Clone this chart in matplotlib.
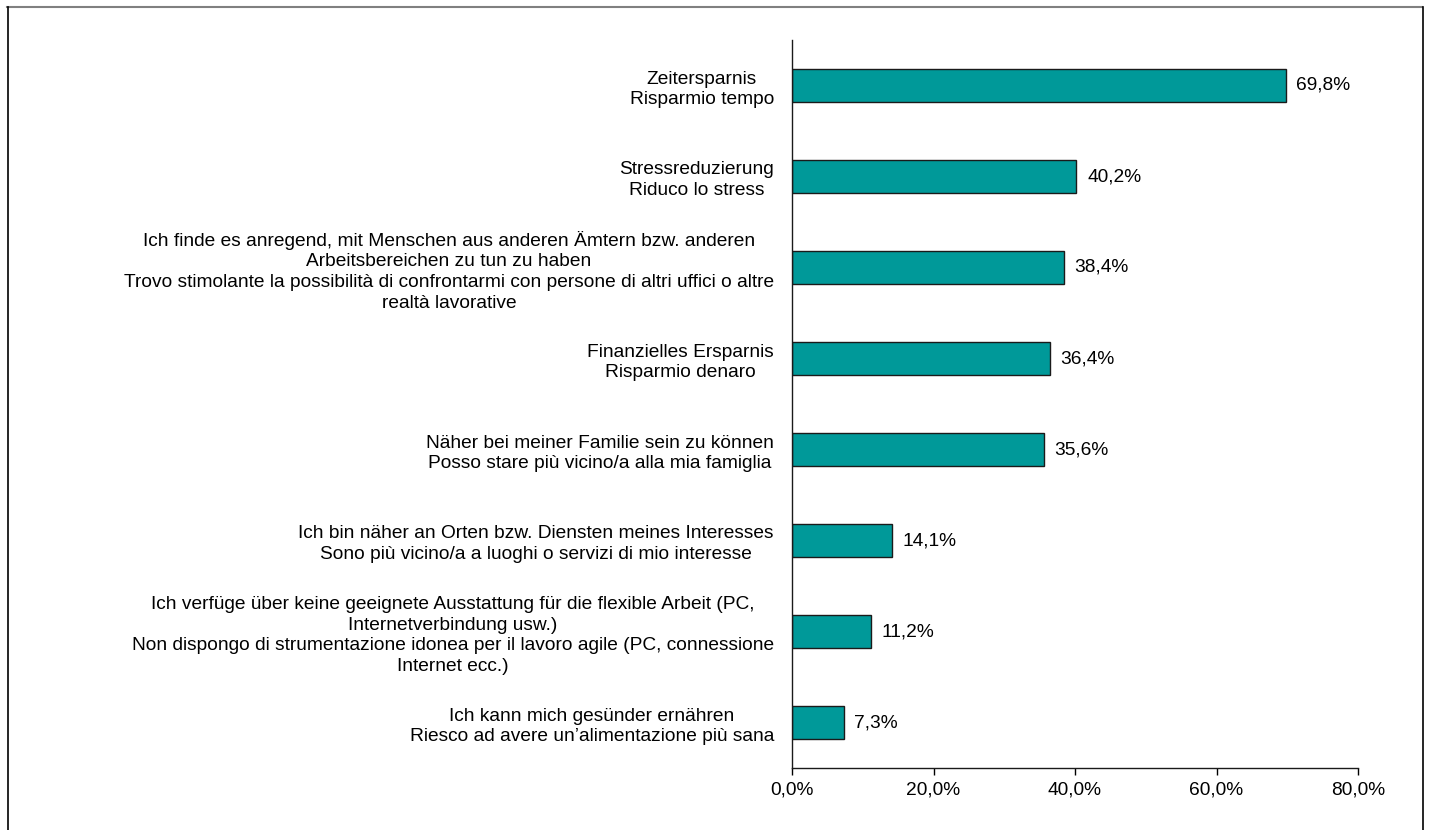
import matplotlib
matplotlib.use("Agg")
import matplotlib.pyplot as plt
from matplotlib.lines import Line2D

plt.rcParams['font.family'] = ['Liberation Sans', 'DejaVu Sans']

labels = [
    "Zeitersparnis\nRisparmio tempo",
    "Stressreduzierung\nRiduco lo stress",
    "Ich finde es anregend, mit Menschen aus anderen Ämtern bzw. anderen\n"
    "Arbeitsbereichen zu tun zu haben\n"
    "Trovo stimolante la possibilità di confrontarmi con persone di altri uffici o altre\n"
    "realtà lavorative",
    "Finanzielles Ersparnis\nRisparmio denaro",
    "Näher bei meiner Familie sein zu können\nPosso stare più vicino/a alla mia famiglia",
    "Ich bin näher an Orten bzw. Diensten meines Interesses\n"
    "Sono più vicino/a a luoghi o servizi di mio interesse",
    "Ich verfüge über keine geeignete Ausstattung für die flexible Arbeit (PC,\n"
    "Internetverbindung usw.)\n"
    "Non dispongo di strumentazione idonea per il lavoro agile (PC, connessione\n"
    "Internet ecc.)",
    "Ich kann mich gesünder ernähren\nRiesco ad avere un’alimentazione più sana",
]
values = [69.8, 40.2, 38.4, 36.4, 35.6, 14.1, 11.2, 7.3]
xticks = [0, 20, 40, 60, 80]

fs = 13.8

fig = plt.figure(figsize=(14.3, 8.3), dpi=100)
ax = fig.add_axes([792 / 1430, 1 - 768 / 830, (1358 - 792) / 1430, (768 - 40) / 830])

ypos = list(range(len(values)))
ax.barh(ypos, values, height=0.36, color='#009999', edgecolor='#1a1a1a', linewidth=1)
ax.set_ylim(len(values) - 0.5, -0.5)
ax.set_xlim(0, 80)

for y, v in zip(ypos, values):
    ax.text(v + 1.5, y, f"{v:.1f}%".replace('.', ','), va='center', ha='left', fontsize=fs)

ax.set_yticks(ypos)
ax.set_yticklabels(labels, fontsize=fs, multialignment='center', linespacing=1.28)
ax.tick_params(axis='y', length=0, pad=13)
ax.set_xticks(xticks)
ax.set_xticklabels([f"{t:.1f}%".replace('.', ',') for t in xticks], fontsize=fs)
ax.tick_params(axis='x', length=5, direction='out', pad=5, width=1)

for s in ['top', 'right']:
    ax.spines[s].set_visible(False)
for s in ['left', 'bottom']:
    ax.spines[s].set_linewidth(1)
    ax.spines[s].set_color('#1a1a1a')

# outer frame
fig.add_artist(Line2D([7 / 1430, 1422 / 1430], [1 - 7.5 / 830, 1 - 7.5 / 830], color='#808080', lw=1.5))
fig.add_artist(Line2D([7.5 / 1430, 7.5 / 1430], [0, 1 - 7 / 830], color='black', lw=1.2))
fig.add_artist(Line2D([1422.5 / 1430, 1422.5 / 1430], [0, 1 - 7 / 830], color='black', lw=1.2))

fig.savefig("out.png", dpi=100, facecolor='white')
